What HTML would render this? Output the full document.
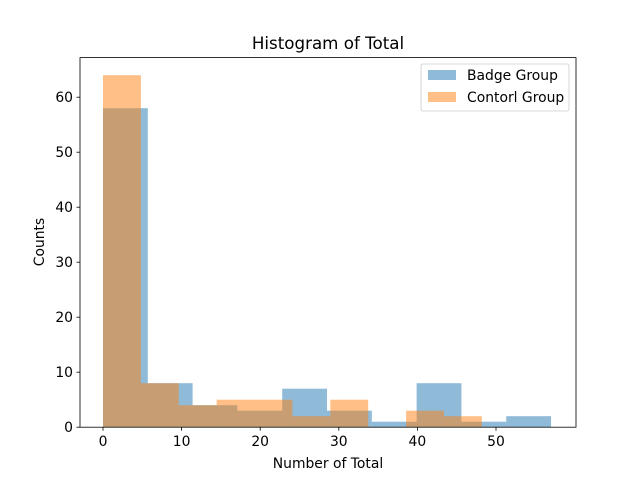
<!DOCTYPE html>
<html><head><meta charset="utf-8"><style>body{margin:0;background:#fff}svg{display:block;font-family:"DejaVu Sans","Liberation Sans",sans-serif}</style></head>
<body>
<svg id="chart" width="640" height="480" xmlns="http://www.w3.org/2000/svg">
<rect width="640" height="480" fill="#fff"/>
<g id="bars"></g>
<rect x="80" y="57.6" width="496" height="369.6" fill="none" stroke="#000" stroke-width="0.8"/>
<g id="ticks" font-size="13.9" fill="#000"></g>
<text x="328" y="49" text-anchor="middle" font-size="16.7">Histogram of Total</text>
<text x="328" y="468" text-anchor="middle" font-size="13.9">Number of Total</text>
<text transform="translate(44,242) rotate(-90)" text-anchor="middle" font-size="13.9">Counts</text>
<g>
<rect x="421" y="64" width="148" height="47" rx="2" fill="#fff" fill-opacity="0.8" stroke="#ccc" stroke-width="0.8"/>
<rect x="428" y="70" width="28" height="10" fill="#1f77b4" fill-opacity="0.5"/>
<text x="467" y="80" font-size="13.9">Badge Group</text>
<rect x="428" y="92" width="28" height="10" fill="#ff7f0e" fill-opacity="0.5"/>
<text x="467" y="102" font-size="13.9">Contorl Group</text>
</g>
</svg>
<script>
const badgeRange = [0, 57];
const badgeCounts = [58, 8, 4, 3, 7, 3, 1, 8, 1, 2];
const controlRange = [0, 48.2];
const controlCounts = [64, 8, 4, 5, 5, 2, 5, 0, 3, 2];
const xTicks = [0, 10, 20, 30, 40, 50];
const yTicks = [0, 10, 20, 30, 40, 50, 60];

const NS = "http://www.w3.org/2000/svg";
const xs = v => 103 + v * 7.86;
const ys = v => 427.2 - v * 5.5;
const bars = document.getElementById('bars');
function drawHist(range, counts, color, name) {
  const w = (range[1] - range[0]) / counts.length;
  counts.forEach((c, i) => {
    const x0 = xs(range[0] + i * w), x1 = xs(range[0] + (i + 1) * w);
    const r = document.createElementNS(NS, 'rect');
    r.setAttribute('x', x0); r.setAttribute('width', x1 - x0);
    r.setAttribute('y', ys(c)); r.setAttribute('height', ys(0) - ys(c));
    r.setAttribute('fill', color); r.setAttribute('fill-opacity', 0.5);
    
    
    bars.appendChild(r);
  });
}
drawHist(badgeRange, badgeCounts, '#1f77b4', 'badge');
drawHist(controlRange, controlCounts, '#ff7f0e', 'control');
const tg = document.getElementById('ticks');
xTicks.forEach(t => {
  const l = document.createElementNS(NS, 'line');
  l.setAttribute('x1', xs(t)); l.setAttribute('x2', xs(t)); l.setAttribute('y1', 427.2); l.setAttribute('y2', 430.7);
  l.setAttribute('stroke', '#000'); l.setAttribute('stroke-width', 0.8);
  
  
  tg.appendChild(l);
  const s = document.createElementNS(NS, 'text');
  s.setAttribute('x', xs(t)); s.setAttribute('y', 446); s.setAttribute('text-anchor', 'middle');
  s.textContent = t;
  
  
  tg.appendChild(s);
});
yTicks.forEach(t => {
  const l = document.createElementNS(NS, 'line');
  l.setAttribute('x1', 76.5); l.setAttribute('x2', 80); l.setAttribute('y1', ys(t)); l.setAttribute('y2', ys(t));
  l.setAttribute('stroke', '#000'); l.setAttribute('stroke-width', 0.8);
  
  
  tg.appendChild(l);
  const s = document.createElementNS(NS, 'text');
  s.setAttribute('x', 73); s.setAttribute('y', ys(t) + 5); s.setAttribute('text-anchor', 'end');
  s.textContent = t;
  
  
  tg.appendChild(s);
});
</script>
</body></html>
